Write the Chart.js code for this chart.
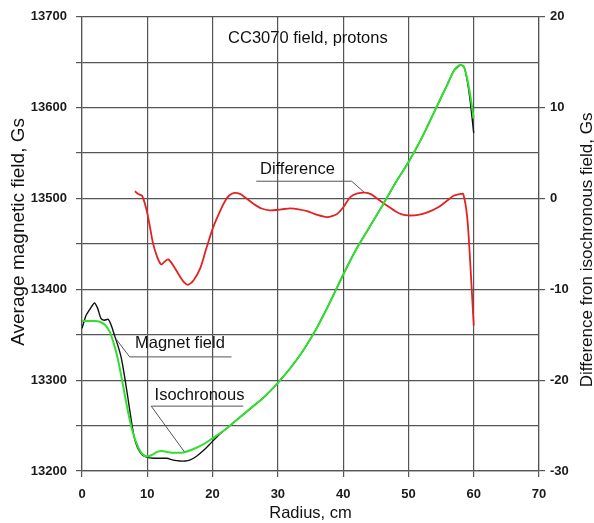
<!DOCTYPE html>
<html><head><meta charset="utf-8">
<script src="https://cdn.jsdelivr.net/npm/chart.js@4/dist/chart.umd.min.js"></script>
<style>html,body{margin:0;padding:0;background:#fff}#c{display:block}</style>
</head><body>
<canvas id="c" width="594" height="523"></canvas>
<script>
// ---- data ----
const radiusMagnet = [0,0.6,1.3,1.9,2.4,2.9,3.4,4.0,4.5,5.0,5.5,6.0,6.5,7.0,7.5,8.0,8.5,9.2,10,11,12,13,14,15,15.8,16.5,17.5,18.5,19.5,21,22,24,26,28,30,32,34,36,38,40,42,44,46,48,50,52,54,56,57,58,58.5,59,59.5,60];
const fieldMagnet = [13357,13371,13379,13385,13379,13368,13366,13367,13360,13349,13338,13325,13305,13282,13258,13237,13226,13218,13215,13214,13214,13214,13212,13211,13211,13212,13216,13222,13229,13240,13246,13258,13270,13282,13297,13314,13334,13358,13386,13416,13444,13468,13492,13517,13540,13566,13596,13626,13641,13647,13645,13630,13605,13572];

const radiusIso = [0,1,2,2.8,3.5,4.2,4.8,5.4,6.0,6.6,7.2,7.8,8.5,9.2,10,10.8,11.5,12.2,13,14,15,15.8,17,18.5,20,22,24,26,28,30,32,34,36,38,40,42,44,46,48,50,52,54,56,57,58,58.5,59,59.5,60];
const fieldIso = [13365,13365,13365,13364,13361,13354,13342,13326,13305,13282,13260,13242,13228,13219,13216,13218,13221,13222,13221,13220,13220,13221,13224,13229,13236,13246,13258,13270,13282,13297,13314,13334,13358,13386,13416,13444,13468,13492,13517,13540,13566,13596,13626,13641,13647,13645,13632,13612,13588];

const radiusDiff = [8.1,8.6,9.2,9.9,10.5,10.9,11.5,12.1,12.6,13.2,14.0,15.0,15.6,16.2,17.1,18.1,19.0,20.1,21.2,21.9,22.5,23.2,24.2,25.0,26.3,27.5,28.8,30.5,31.9,33.2,34.5,36.0,37.5,38.5,39.1,40.0,41.1,42.2,43.4,44.3,45.2,46.7,48.0,49.0,50.0,51.5,53.0,54.5,56.0,57.0,58.0,58.4,59.0,59.5,60.0];
const diffValues = [0.8,0.5,0.3,-1.3,-3.5,-5.0,-6.4,-7.25,-7.0,-6.7,-7.4,-8.6,-9.2,-9.5,-9.0,-7.7,-5.6,-3.15,-1.3,-0.3,0.3,0.6,0.5,0.1,-0.6,-1.1,-1.3,-1.2,-1.1,-1.2,-1.4,-1.8,-2.05,-1.9,-1.7,-1.0,0.15,0.55,0.65,0.45,0.0,-0.77,-1.4,-1.75,-1.87,-1.8,-1.5,-1.0,-0.2,0.33,0.5,0.5,-2.05,-7.5,-14.0];

const radiusTicks = [0,10,20,30,40,50,60,70];
const fieldTicks = [13200,13250,13300,13350,13400,13450,13500,13550,13600,13650,13700];
const fieldTickLabels = ['13200','','13300','','13400','','13500','','13600','','13700'];
const diffTicks = [-30,-20,-10,0,10,20];

const chartTitle = 'CC3070 field, protons';
const xTitle = 'Radius, cm';
const yTitle = 'Average magnetic field, Gs';
const y1Title = 'Difference fron isochronous field, Gs';

// annotation labels, anchored in data units
const labels = [
  {text:'Magnet field', axis:'y',  at:[15.0,13340],  leader:[[5.25,13345],[7.3,13325.6],[22.9,13325.6]]},
  {text:'Isochronous',  axis:'y',  at:[18.0,13283.5], leader:[[15.7,13221],[10.6,13271.4],[24.7,13271.4]]},
  {text:'Difference',   axis:'y1', at:[33.0,3.15],   leader:[[43.2,0.69],[41.3,1.9],[26.7,1.9]]}
];
const titleAt = [34.6,13676.6];

const FONT = "'Liberation Sans', Arial, sans-serif";
const GRID = '#555555';

const toXY = (xs, ys) => xs.map((x,i)=>({x, y: ys[i]}));

const overlay = {
  id:'overlay',
  afterDatasetsDraw(chart){
    const ctx = chart.ctx, sx = chart.scales.x;
    const ca = chart.chartArea;
    ctx.save();
    // chart title
    ctx.fillStyle = '#111';
    ctx.font = '16.5px ' + FONT;
    ctx.textAlign = 'center'; ctx.textBaseline = 'middle';
    ctx.fillText(chartTitle, sx.getPixelForValue(titleAt[0]), chart.scales.y.getPixelForValue(titleAt[1]));
    // labels with leader lines
    labels.forEach(l => {
      const sy = chart.scales[l.axis];
      ctx.strokeStyle = '#555'; ctx.lineWidth = 1;
      ctx.beginPath();
      l.leader.forEach((p,i) => {
        const px = sx.getPixelForValue(p[0]), py = sy.getPixelForValue(p[1]);
        if(i===0) ctx.moveTo(px,py); else ctx.lineTo(px,py);
      });
      ctx.stroke();
      ctx.fillStyle = '#111';
      ctx.fillText(l.text, sx.getPixelForValue(l.at[0]), sy.getPixelForValue(l.at[1]));
    });
    // left axis title
    ctx.save();
    ctx.translate(19, (ca.top + ca.bottom)/2 - 12);
    ctx.rotate(-Math.PI/2);
    ctx.font = '19px ' + FONT;
    ctx.fillText(yTitle, 0, 0);
    ctx.restore();
    // right axis title (reads bottom-to-top, like the left one)
    ctx.translate(587, (ca.top + ca.bottom)/2 + 6);
    ctx.rotate(-Math.PI/2);
    ctx.font = '17px ' + FONT;
    ctx.fillText(y1Title, 0, 0);
    ctx.restore();
  }
};

new Chart(document.getElementById('c'), {
  type:'line',
  data:{
    datasets:[
      {label:'Isochronous', data:toXY(radiusIso, fieldIso), yAxisID:'y', borderColor:'#2fe02f', borderWidth:2, pointRadius:0, cubicInterpolationMode:'monotone', order:0},
      {label:'Magnet field', data:toXY(radiusMagnet, fieldMagnet), yAxisID:'y', borderColor:'#111111', borderWidth:1.4, pointRadius:0, tension:0.2, order:1},
      {label:'Difference', data:toXY(radiusDiff, diffValues), yAxisID:'y1', borderColor:'#e42222', borderWidth:1.8, pointRadius:0, tension:0.3, order:0}
    ]
  },
  options:{
    responsive:false, animation:false, devicePixelRatio:1,
    layout:{padding:{top:16,left:0,right:0,bottom:0}},
    plugins:{legend:{display:false}, tooltip:{enabled:false}, title:{display:false}},
    scales:{
      x:{
        type:'linear', min:0, max:70,
        afterBuildTicks:s=>{ s.ticks = radiusTicks.map(v=>({value:v})); },
        ticks:{font:{family:FONT,size:13,weight:'bold'}, color:'#1a1a1a', padding:10, maxRotation:0, autoSkip:false},
        grid:{color:GRID, lineWidth:1.2, tickLength:6, tickColor:GRID},
        border:{color:GRID, width:1.2},
        title:{display:true, text:xTitle, font:{family:FONT,size:16.5}, color:'#111', padding:{top:0,bottom:0}},
        afterFit:s=>{ s.height = 52; }
      },
      y:{
        type:'linear', position:'left', min:13200, max:13700,
        afterBuildTicks:s=>{ s.ticks = fieldTicks.map(v=>({value:v})); },
        ticks:{font:{family:FONT,size:13,weight:'bold'}, color:'#1a1a1a', padding:9, autoSkip:false,
               callback:(v)=>fieldTickLabels[fieldTicks.indexOf(v)] ?? ''},
        grid:{color:GRID, lineWidth:1.2, tickLength:6, tickColor:GRID},
        border:{color:GRID, width:1.2},
        title:{display:false, text:yTitle},
        afterFit:s=>{ s.width = 82; }
      },
      y1:{
        type:'linear', position:'right', min:-30, max:20,
        afterBuildTicks:s=>{ s.ticks = diffTicks.map(v=>({value:v})); },
        ticks:{font:{family:FONT,size:13,weight:'bold'}, color:'#1a1a1a', padding:5, autoSkip:false},
        grid:{drawOnChartArea:false, color:GRID, lineWidth:1.2, tickLength:6, tickColor:GRID},
        border:{color:GRID, width:1.2},
        title:{display:false, text:y1Title},
        afterFit:s=>{ s.width = 55; }
      }
    }
  },
  plugins:[overlay]
});
</script>
</body></html>
